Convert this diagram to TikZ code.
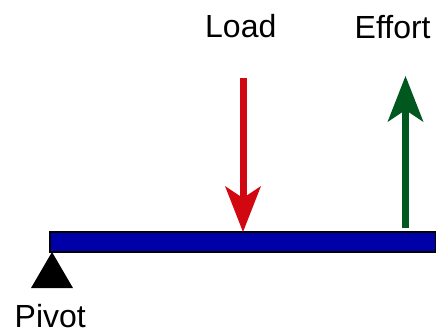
\documentclass[tikz,border=0pt]{standalone}
\usepackage{fontspec}
\setmainfont{Liberation Sans}
\usetikzlibrary{arrows.meta}
\definecolor{loadred}{RGB}{210,8,16}
\definecolor{effortgreen}{RGB}{0,88,30}
\definecolor{beamblue}{RGB}{0,0,168}
\tikzset{
  lbl/.style={inner sep=0pt, anchor=base west, text depth=0pt, font=\fontsize{32}{36}\selectfont},
  force/.style={line width=7pt, -{Stealth[length=46pt,width=36pt,inset=12pt,line width=0pt]}},
}
\begin{document}
\begin{tikzpicture}[x=1pt,y=-1pt]
\useasboundingbox (0,0) rectangle (437,333);
% beam
\draw[fill=beamblue, draw=black, line width=1.3pt] (50,232) rectangle (435.5,252);
% pivot
\fill[black] (52,252) -- (73,288) -- (31,288) -- cycle;
% labels
\node[lbl] (load) at (205,37) {Load};
\node[lbl] (effort) at (354.5,38) {Effort};
\node[lbl] (pivot) at (14.5,327.5) {Pivot};
% arrows
\coordinate (ls) at (243,78);
\coordinate (le) at (243,232);
\coordinate (es) at (405.5,228);
\coordinate (ee) at (405.5,76);
\draw[force, loadred] (ls) -- (le);
\draw[force, effortgreen] (es) -- (ee);
\end{tikzpicture}
\end{document}
